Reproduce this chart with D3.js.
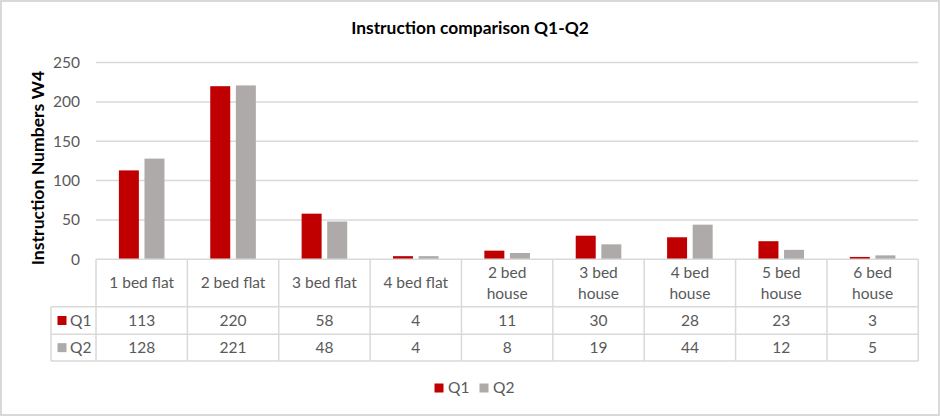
<!DOCTYPE html>
<html>
<head>
<meta charset="utf-8">
<script src="https://cdn.jsdelivr.net/npm/d3@7"></script>
<style>
  html, body { margin: 0; padding: 0; background: #fff; }
  svg { display: block; font-family: Lato, "Open Sans", sans-serif; }
</style>
</head>
<body>
<svg id="chart" width="940" height="416"></svg>
<script>
const title = "Instruction comparison Q1-Q2";
const yTitle = "Instruction Numbers W4";
const categories = ["1 bed flat", "2 bed flat", "3 bed flat", "4 bed flat", "2 bed house", "3 bed house", "4 bed house", "5 bed house", "6 bed house"];
const seriesNames = ["Q1", "Q2"];
const q1Values = [113, 220, 58, 4, 11, 30, 28, 23, 3];
const q2Values = [128, 221, 48, 4, 8, 19, 44, 12, 5];
const yTicks = [0, 50, 100, 150, 200, 250];
const colors = ["#C00000", "#AEAAAA"];

(function () {
const seriesValues = [q1Values, q2Values];
const svg = d3.select("#chart");
const W = 940, H = 416;
const textColor = "#595959";
const lineColor = "#D9D9D9";

// outer border
svg.append("rect").attr("x", 1).attr("y", 1).attr("width", W - 2).attr("height", H - 2)
  .attr("fill", "#fff").attr("stroke", lineColor).attr("stroke-width", 2);

const pLeft = 96, pRight = 918.3, pTop = 62.6, pBottom = 259.3;
const x = d3.scaleBand().domain(categories).range([pLeft, pRight]).padding(0);
const xs = d3.scaleBand().domain(seriesNames).range([0, x.bandwidth()]).paddingInner(0.219).paddingOuter(0.894);
const y = d3.scaleLinear().domain([0, 250]).range([pBottom, pTop]);

// title
svg.append("text").attr("x", 470).attr("y", 34).attr("text-anchor", "middle")
  .attr("font-size", 17.4).attr("font-weight", "bold").attr("fill", "#000").text(title);

// gridlines
svg.append("g").selectAll("line").data(yTicks.filter(d => d > 0)).join("line")
  .attr("x1", pLeft).attr("x2", pRight).attr("y1", d => y(d)).attr("y2", d => y(d))
  .attr("stroke", lineColor).attr("stroke-width", 1.5);

// y axis via d3 axis
const yAxis = svg.append("g").attr("transform", `translate(${pLeft},0)`)
  .call(d3.axisLeft(y).tickValues(yTicks).tickSize(0).tickPadding(16));
yAxis.select(".domain").remove();
yAxis.selectAll("text").attr("font-size", 15.5).attr("fill", textColor).attr("font-family", "Lato, sans-serif");

// y title
svg.append("text").attr("transform", `translate(44,168) rotate(-90)`)
  .attr("text-anchor", "middle").attr("font-size", 17.6).attr("font-weight", "bold").attr("fill", "#000").text(yTitle);

// bars
const groups = svg.append("g").selectAll("g").data(categories).join("g")
  .attr("transform", d => `translate(${x(d)},0)`);
groups.selectAll("rect").data((d, i) => seriesNames.map((s, j) => ({ s, v: seriesValues[j][i], j })))
  .join("rect")
  .attr("x", d => xs(d.s)).attr("width", xs.bandwidth())
  .attr("y", d => y(d.v)).attr("height", d => y(0) - y(d.v))
  .attr("fill", d => colors[d.j]);

// data table
const rowTop = [pBottom, 306.7, 334.3, 361];
const labelLeft = 51;
const tbl = svg.append("g").attr("stroke", lineColor).attr("stroke-width", 1.5);
tbl.append("line").attr("x1", pLeft).attr("x2", pRight).attr("y1", rowTop[0]).attr("y2", rowTop[0]);
[1, 2, 3].forEach(k => tbl.append("line").attr("x1", labelLeft).attr("x2", pRight).attr("y1", rowTop[k]).attr("y2", rowTop[k]));
tbl.append("line").attr("x1", labelLeft).attr("x2", labelLeft).attr("y1", rowTop[1]).attr("y2", rowTop[3]);
categories.concat(["__end"]).forEach((c, i) => {
  const xx = i < categories.length ? x(c) : pRight;
  tbl.append("line").attr("x1", xx).attr("x2", xx).attr("y1", rowTop[0]).attr("y2", rowTop[3]);
});

// header labels
const hdr = svg.append("g").attr("font-size", 15.5).attr("fill", textColor).attr("text-anchor", "middle");
categories.forEach(c => {
  const lines = c.includes("house") ? [c.replace(" house", ""), "house"] : [c];
  const cx = x(c) + x.bandwidth() / 2;
  const cy = (rowTop[0] + rowTop[1]) / 2;
  const lh = 20.6;
  lines.forEach((ln, k) => {
    hdr.append("text").attr("x", cx).attr("y", cy + (k - (lines.length - 1) / 2) * lh)
      .attr("dy", "0.35em").text(ln);
  });
});

// value rows
seriesNames.forEach((s, j) => {
  const cy = (rowTop[j + 1] + rowTop[j + 2]) / 2;
  svg.append("rect").attr("x", 57.5).attr("y", cy - 4.5).attr("width", 9).attr("height", 9).attr("fill", colors[j]);
  svg.append("text").attr("x", 70).attr("y", cy).attr("dy", "0.35em").attr("font-size", 15.5).attr("fill", textColor).text(s);
  svg.append("g").selectAll("text").data(categories).join("text")
    .attr("x", d => x(d) + x.bandwidth() / 2).attr("y", cy).attr("dy", "0.35em")
    .attr("text-anchor", "middle").attr("font-size", 15.5).attr("fill", textColor)
    .text((d, i) => seriesValues[j][i]);
});

// legend
const legend = svg.append("g");
const legX = [434.5, 479.5];
seriesNames.forEach((s, j) => {
  legend.append("rect").attr("x", legX[j]).attr("y", 383.5).attr("width", 9).attr("height", 9).attr("fill", colors[j]);
  legend.append("text").attr("x", legX[j] + 13.5).attr("y", 388).attr("dy", "0.35em")
    .attr("font-size", 15.5).attr("fill", textColor).text(s);
});
})();
</script>
</body>
</html>
